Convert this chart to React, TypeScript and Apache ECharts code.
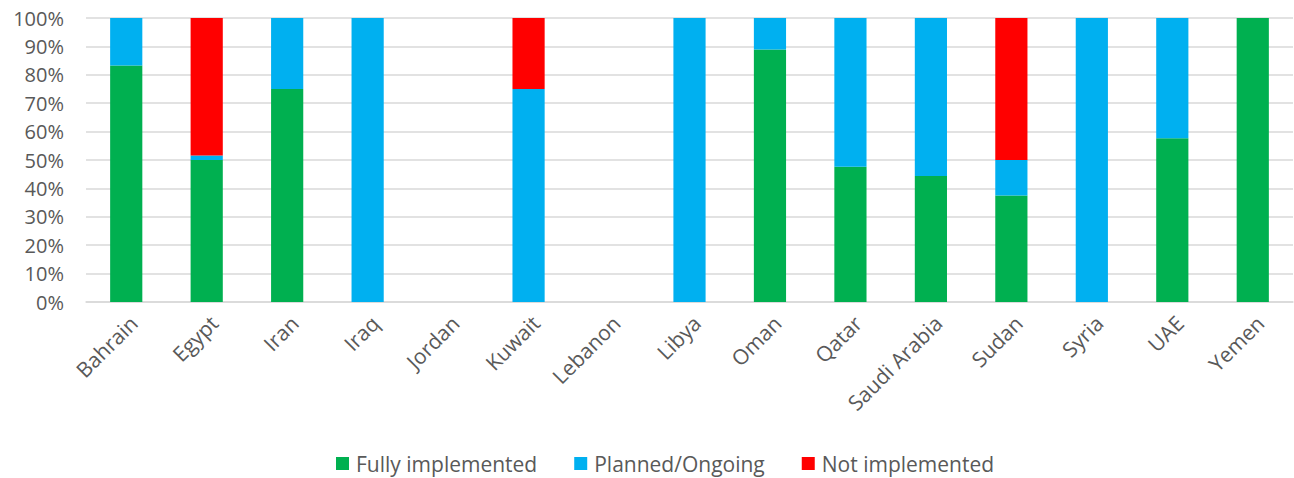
import React, { useEffect, useRef } from "react";
import * as echarts from "echarts";

const categories = ["Bahrain", "Egypt", "Iran", "Iraq", "Jordan", "Kuwait", "Lebanon", "Libya", "Oman", "Qatar", "Saudi Arabia", "Sudan", "Syria", "UAE", "Yemen"];
const fullyImplemented = [83.3, 50, 75, 0, 0, 0, 0, 0, 88.9, 47.6, 44.4, 37.5, 0, 57.7, 100];
const plannedOngoing = [16.7, 1.6, 25, 100, 0, 75, 0, 100, 11.1, 52.4, 55.6, 12.5, 100, 42.3, 0];
const notImplemented = [0, 48.4, 0, 0, 0, 25, 0, 0, 0, 0, 0, 50, 0, 0, 0];
const yTicks = [0, 10, 20, 30, 40, 50, 60, 70, 80, 90, 100];

const FONT = "'Open Sans', sans-serif";
const TXT = "#595959";

export default function App() {
  const ref = useRef<HTMLDivElement>(null);
  useEffect(() => {
    document.body.style.margin = "0";
    const chart = echarts.init(ref.current!, null, { renderer: "svg" });
    const mk = (name: string, data: number[], color: string) => ({
      name,
      type: "bar",
      stack: "total",
      data,
      barWidth: "40%",
      itemStyle: { color },
    });
    chart.setOption({
      animation: false,
      textStyle: { fontFamily: FONT },
      grid: { left: 86, right: 1, top: 18, bottom: 176 },
      legend: {
        left: 331,
        top: 448,
        icon: "rect",
        itemWidth: 13,
        itemHeight: 13,
        itemGap: 37,
        textStyle: { fontFamily: FONT, fontSize: 21, color: TXT, padding: [0, 0, 0, 2] },
        data: ["Fully implemented", "Planned/Ongoing", "Not implemented"],
      },
      xAxis: {
        type: "category",
        data: categories,
        axisLine: { show: true, lineStyle: { color: "#d9d9d9", width: 1.5 } },
        axisTick: { show: false },
        axisLabel: {
          rotate: 45,
          fontFamily: FONT,
          fontSize: 21,
          color: TXT,
          margin: 10,
          interval: 0,
          align: "right",
          verticalAlign: "top",
        },
      },
      yAxis: {
        type: "value",
        min: 0,
        max: 100,
        interval: 10,
        axisLine: { show: false },
        axisTick: { show: false },
        splitLine: { lineStyle: { color: "#d9d9d9", width: 1.5 } },
        axisLabel: {
          fontFamily: FONT,
          fontSize: 20,
          color: TXT,
          margin: 22,
          formatter: (v: number) => (yTicks.includes(v) ? v + "%" : ""),
        },
      },
      series: [
        mk("Fully implemented", fullyImplemented, "#00B050"),
        mk("Planned/Ongoing", plannedOngoing, "#00B0F0"),
        mk("Not implemented", notImplemented, "#FF0000"),
      ],
    });
    return () => chart.dispose();
  }, []);
  return <div ref={ref} style={{ width: 1294, height: 478 }} />;
}
